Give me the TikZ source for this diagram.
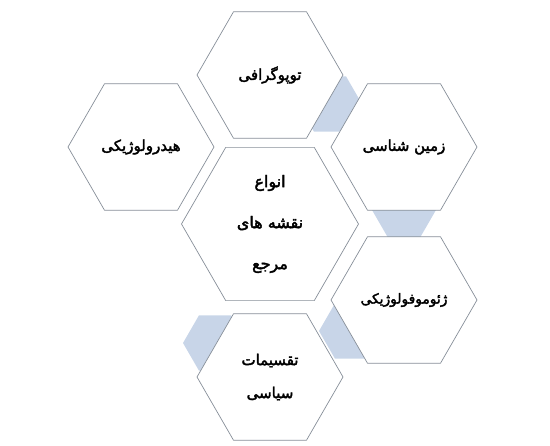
\documentclass[tikz,border=0pt]{standalone}
\usepackage{fontspec}
\newfontfamily\arabicfont[Script=Arabic, AutoFakeBold=2.4]{DejaVu Sans}
\TeXXeTstate=1
\usetikzlibrary{shapes.geometric}
\definecolor{hexline}{RGB}{135,143,153}
\definecolor{accent}{RGB}{200,213,232}
\newcommand{\fa}[1]{\beginR #1\endR}
\begin{document}
\begin{tikzpicture}[x=1pt, y=-1pt,
	hexa/.style={regular polygon, regular polygon sides=6, draw=hexline, line width=0.7pt,
		fill=white, inner sep=0pt, minimum size=146pt, align=center,
		font=\arabicfont\bfseries\fontsize{15}{33}\selectfont},
	accent hex/.style={regular polygon, regular polygon sides=6, fill=accent, inner sep=0pt,
		minimum size=64pt}]
\useasboundingbox (0,0) rectangle (550,446);

% accent hexagons behind
\foreach \pos [count=\i] in {(330,104),(404,210),(351,331),(215,343)}
	\node [accent hex] (accent-\i) at \pos {};

% main hexagons
\node [hexa] (topo) at (270,75) {\fa{توپوگرافی}};
\node [hexa] (zamin) at (404,147) {\fa{زمین شناسی}};
\node [hexa] (hydro) at (141,147) {\fa{هیدرولوژیکی}};
\node [hexa, font=\arabicfont\bfseries\fontsize{13.8}{33}\selectfont]
	(geomorph) at (404,300) {\fa{ژئوموفولوژیکی}};
\node [hexa] (siasi) at (270,377) {\fa{تقسیمات}\\\fa{سیاسی}};
\node [hexa, minimum size=177pt, font=\arabicfont\bfseries\fontsize{16}{41}\selectfont]
	(center) at (270,224) {\fa{انواع}\\\fa{نقشه های}\\\fa{مرجع}};

\end{tikzpicture}
\end{document}
